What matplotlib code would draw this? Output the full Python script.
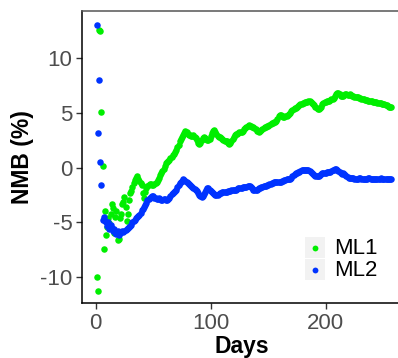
import matplotlib
matplotlib.use("Agg")
import matplotlib.pyplot as plt
from matplotlib.patches import Rectangle
from matplotlib.lines import Line2D
import numpy as np

plt.rcParams['font.family'] = ['Liberation Sans', 'DejaVu Sans']
plt.rcParams['axes.unicode_minus'] = False

ml1 = [-10.0, -11.3, 12.6, 12.5, 5.1, 0.2, -7.4, -4.0, -6.2, -5.4,
       -4.6, -5.1, -4.2, -3.3, -3.7, -6.0, -4.5, -4.0, -6.6, -6.5,
       -4.6, -4.2, -3.3, -3.1, -2.7, -3.6, -4.9, -4.2, -3.0, -2.3,
       -2.1, -1.8, -1.4, -1.1, -0.9, -0.8, -1.0, -1.2, -1.4, -1.6,
       -2.3, -2.8, -2.2, -1.9, -1.7, -1.6, -1.5, -1.5, -1.6, -1.6,
       -1.5, -1.4, -1.3, -1.1, -0.9, -0.7, -0.5, -0.3, -0.1, 0.2,
       0.4, 0.5, 0.6, 0.7, 0.9, 1.0, 1.2, 1.3, 1.4, 1.6,
       1.9, 2.1, 2.4, 2.6, 2.8, 3.0, 3.2, 3.35, 3.3, 3.1,
       3.0, 3.0, 2.9, 2.9, 3.0, 2.8, 2.7, 2.5, 2.3, 2.2,
       2.3, 2.5, 2.7, 2.8, 2.7, 2.6, 2.5, 2.5, 2.6, 2.9,
       3.2, 3.4, 3.45, 3.3, 3.1, 2.9, 2.8, 2.8, 2.7, 2.6,
       2.5, 2.4, 2.4, 2.4, 2.3, 2.2, 2.3, 2.4, 2.6, 2.8,
       3.0, 3.1, 3.1, 3.2, 3.3, 3.3, 3.3, 3.4, 3.5, 3.6,
       3.7, 3.8, 3.9, 3.85, 3.8, 3.75, 3.7, 3.6, 3.5, 3.4,
       3.35, 3.3, 3.35, 3.45, 3.55, 3.65, 3.7, 3.75, 3.8, 3.85,
       3.9, 4.0, 4.05, 4.1, 4.15, 4.2, 4.3, 4.5, 4.75, 4.8,
       4.8, 4.7, 4.65, 4.65, 4.7, 4.75, 4.85, 4.95, 5.05, 5.15,
       5.25, 5.35, 5.45, 5.5, 5.6, 5.65, 5.75, 5.8, 5.85, 5.9,
       5.95, 6.0, 6.0, 6.05, 6.1, 6.1, 6.05, 5.9, 5.8, 5.7,
       5.6, 5.5, 5.4, 5.4, 5.5, 5.6, 5.8, 5.9, 6.0, 6.05,
       6.1, 6.1, 6.15, 6.2, 6.25, 6.3, 6.4, 6.55, 6.7, 6.8,
       6.8, 6.7, 6.6, 6.55, 6.6, 6.65, 6.7, 6.7, 6.65, 6.65,
       6.7, 6.65, 6.6, 6.55, 6.5, 6.5, 6.5, 6.45, 6.4, 6.35,
       6.3, 6.25, 6.25, 6.2, 6.2, 6.2, 6.15, 6.15, 6.1, 6.1,
       6.05, 6.05, 6.0, 6.0, 5.95, 5.95, 5.9, 5.9, 5.85, 5.85,
       5.8, 5.75, 5.7, 5.65, 5.6, 5.55, 5.6]

ml2 = [13.1, 3.2, 8.0, 0.5, -1.6, -4.8, -4.5, -4.9, -5.0, -5.3,
       -5.0, -5.6, -5.2, -5.5, -5.8, -5.6, -6.0, -6.1, -5.8, -6.2,
       -6.0, -5.9, -5.8, -5.9, -5.8, -5.7, -5.6, -5.5, -5.4, -5.3,
       -5.2, -5.0, -4.9, -4.8, -4.6, -4.5, -4.4, -4.3, -4.1, -3.9,
       -3.8, -3.6, -3.4, -3.2, -3.0, -2.9, -2.8, -2.7, -2.6, -2.6,
       -2.8, -2.8, -2.9, -2.9, -2.8, -2.9, -3.0, -3.0, -2.9, -2.9,
       -3.0, -3.0, -2.9, -2.8, -2.6, -2.4, -2.3, -2.2, -2.1, -2.0,
       -1.8, -1.6, -1.4, -1.3, -1.2, -1.0, -1.1, -1.2, -1.3, -1.4,
       -1.5, -1.6, -1.7, -1.8, -1.9, -1.95, -2.0, -2.1, -2.3, -2.5,
       -2.6, -2.65, -2.6, -2.4, -2.2, -2.0, -1.9, -1.9, -2.0, -2.1,
       -2.2, -2.3, -2.4, -2.5, -2.5, -2.5, -2.4, -2.3, -2.3, -2.2,
       -2.2, -2.2, -2.2, -2.2, -2.1, -2.1, -2.1, -2.0, -2.0, -2.0,
       -2.0, -2.0, -1.95, -1.9, -1.9, -1.85, -1.85, -1.8, -1.8, -1.75,
       -1.75, -1.7, -1.7, -1.7, -1.8, -1.9, -2.0, -2.0, -2.0, -2.0,
       -1.95, -1.9, -1.85, -1.8, -1.75, -1.7, -1.7, -1.65, -1.6, -1.55,
       -1.5, -1.45, -1.4, -1.4, -1.35, -1.35, -1.3, -1.3, -1.3, -1.3,
       -1.3, -1.25, -1.2, -1.15, -1.1, -1.05, -1.0, -1.0, -1.0, -0.9,
       -0.8, -0.7, -0.6, -0.5, -0.45, -0.4, -0.35, -0.3, -0.25, -0.2,
       -0.2, -0.2, -0.2, -0.2, -0.25, -0.3, -0.4, -0.5, -0.6, -0.7,
       -0.75, -0.8, -0.8, -0.75, -0.65, -0.55, -0.5, -0.45, -0.45, -0.45,
       -0.4, -0.4, -0.4, -0.35, -0.3, -0.25, -0.2, -0.15, -0.15, -0.2,
       -0.3, -0.4, -0.5, -0.55, -0.5, -0.6, -0.7, -0.8, -0.85, -0.9,
       -0.9, -0.9, -0.95, -0.95, -1.0, -1.0, -1.0, -1.0, -0.95, -0.95,
       -1.0, -1.0, -1.0, -1.05, -1.0, -1.0, -0.95, -0.95, -1.0, -1.0,
       -1.0, -1.0, -1.05, -1.05, -1.0, -1.0, -1.0, -0.95, -1.0, -1.0,
       -1.0, -1.0, -1.0, -1.0, -1.0, -1.0, -1.0]

days1 = np.arange(1, len(ml1) + 1)
days2 = np.arange(1, len(ml2) + 1)

series_names = ['ML1', 'ML2']
series_colors = ['#00EE00', '#0033FF']
x_ticks = [0, 100, 200]
y_ticks = [-10, -5, 0, 5, 10]

W, H = 398, 358
fig = plt.figure(figsize=(W / 100, H / 100), dpi=100)
ax = fig.add_axes([82 / W, (H - 303) / H, (402 - 82) / W, (303 - 11) / H])

ax.scatter(days1, ml1, s=22, color=series_colors[0], linewidths=0, zorder=2)
ax.scatter(days2, ml2, s=22, color=series_colors[1], linewidths=0, zorder=3)

ax.set_xlim(-11.9, 266.3)
ax.set_ylim(-12.38, 14.34)
ax.set_xticks(x_ticks)
ax.set_yticks(y_ticks)
ax.tick_params(axis='both', labelsize=16, labelcolor='#4D4D4D', color='#333333',
               length=4, width=1, direction='out')
ax.tick_params(axis='y', pad=3)
ax.tick_params(axis='x', pad=3)

for side in ['left', 'bottom']:
    ax.spines[side].set_color('black')
    ax.spines[side].set_linewidth(1.1)
ax.spines['top'].set_color('#555555')
ax.spines['top'].set_linewidth(1.1)
ax.spines['right'].set_visible(False)

ax.set_xlabel('Days', fontsize=16.5, fontweight='bold', labelpad=1)
ax.set_ylabel('NMB (%)', fontsize=16.5, fontweight='bold', labelpad=4)

# legend drawn manually (keys with grey background)
key_tops = [237, 259]
for i, (name, col) in enumerate(zip(series_names, series_colors)):
    top = key_tops[i]
    fig.patches.append(Rectangle((305 / W, 1 - (top + 21) / H), 20 / W, 21 / H,
                                 transform=fig.transFigure, facecolor='#F2F2F2',
                                 edgecolor='none', zorder=5))
    fig.lines.append(Line2D([315 / W], [1 - (top + 10.5) / H], transform=fig.transFigure,
                            marker='o', markersize=4.2, color=col, markeredgewidth=0,
                            linestyle='none', zorder=6))
    fig.text(334 / W, 1 - (top + 11) / H, name, fontsize=16, color='black',
             ha='left', va='center', zorder=6)

fig.savefig('out.png', dpi=100)
